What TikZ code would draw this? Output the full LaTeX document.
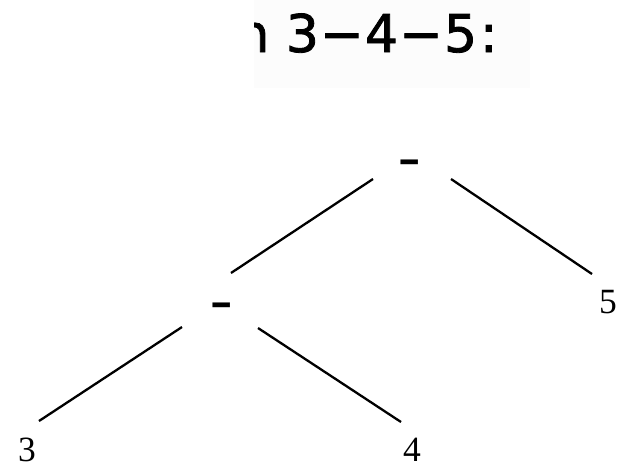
\documentclass[tikz,border=0pt]{standalone}
\usepackage{fontspec}
\usepackage{tikz}
\setmainfont{Liberation Serif}
\newfontfamily\titlefont[FakeBold=1.6]{DejaVu Sans}
\definecolor{scangray}{RGB}{252,252,252}

\begin{document}
\begin{tikzpicture}[x=0.5pt, y=-0.5pt,
    leaf/.style={inner sep=0pt, font=\fontsize{17.75}{20}\selectfont},
    opnode/.style={inner sep=0pt, font=\fontsize{28}{30}\selectfont\bfseries},
    edge/.style={line width=1.15pt}]
  \useasboundingbox (0,0) rectangle (625,467);
  % scanned caption, cut off at the left
  \fill[scangray] (254,0) rectangle (530,88);
  \begin{scope}
    \clip (254,0) rectangle (530,88);
    \node[anchor=base west, inner sep=0pt, font=\titlefont\fontsize{26}{30}\selectfont] (caption) at (236,52)
      {n 3\kern0.6pt−\kern0.6pt4\kern0.6pt−\kern0.6pt5\kern1.5pt:};
  \end{scope}
  % tree
  \node[opnode] (root) at (410,168) {\scalebox{1.2}[1]{-}};
  \node[opnode] (minus) at (222,311) {\scalebox{1.2}[1]{-}};
  \node[leaf] (three) at (27,450) {3};
  \node[leaf] (four) at (412,450) {4};
  \node[leaf] (five) at (608,302) {5};
  \draw[edge] ([shift={(-37,11)}]root.center) -- ([shift={(9,-38)}]minus.center);
  \draw[edge] ([shift={(41,11)}]root.center) -- ([shift={(-16,-28)}]five.center);
  \draw[edge] ([shift={(-40,16)}]minus.center) -- ([shift={(12,-29)}]three.center);
  \draw[edge] ([shift={(36,17)}]minus.center) -- ([shift={(-11,-28)}]four.center);
\end{tikzpicture}
\end{document}
